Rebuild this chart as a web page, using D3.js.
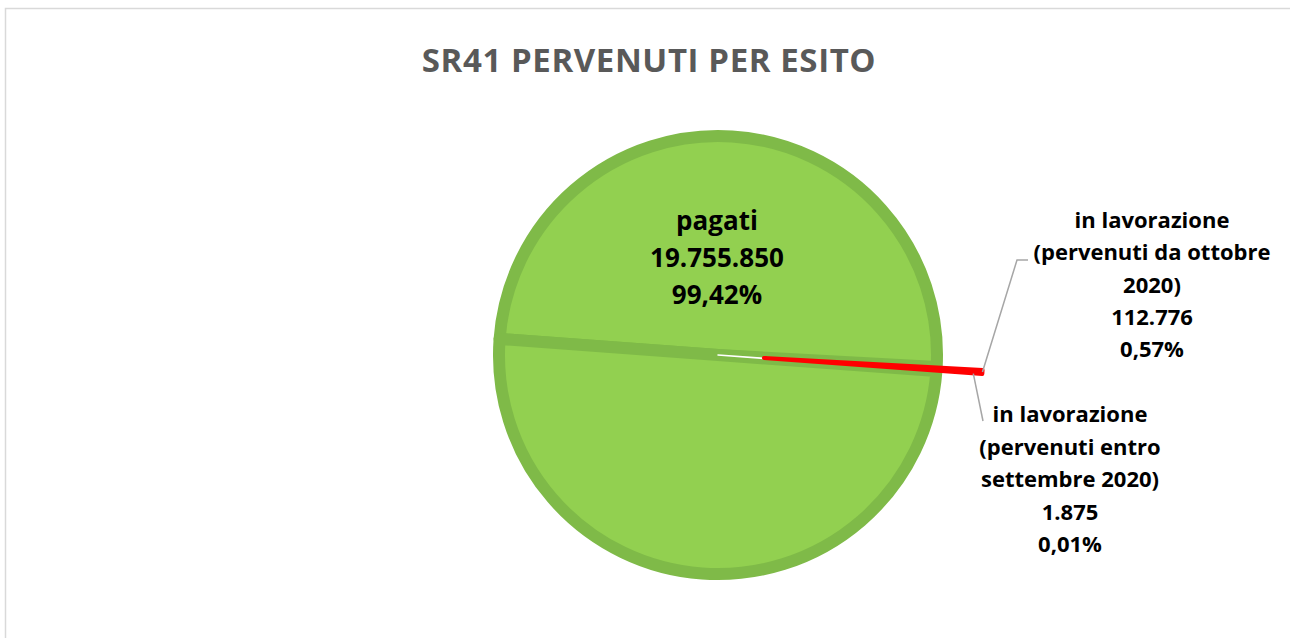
<!DOCTYPE html>
<html>
<head>
<meta charset="utf-8">
<script src="https://cdn.jsdelivr.net/npm/d3@7"></script>
<style>
  html, body { margin: 0; padding: 0; background: #fff; }
  svg { display: block; }
  text { font-family: "Open Sans", "Noto Sans", sans-serif; font-weight: bold; }
</style>
</head>
<body>
<div id="chart"></div>
<script>
// Data (helper "totale" slice draws the lower half, Excel half-pie style)
const categories = ['pagati', 'in lavorazione ottobre', 'in lavorazione settembre', 'totale'];
const values = [19755850, 112776, 1875, 19870501];
const labelLines = [
  ['pagati'],
  ['in lavorazione', '(pervenuti da ottobre', '2020)'],
  ['in lavorazione', '(pervenuti entro', 'settembre 2020)'],
  []
];
const colors = ['#92d050', '#ff0000', '#ffffff', '#92d050'];

const width = 1290;
const height = 638;
const cx = 718, cy = 355;
const radius = 219;
const explode = 46;

const locale = d3.formatLocale({ decimal: ',', thousands: '.', grouping: [3], currency: ['€', ''] });
const fmtNum = locale.format(',d');
const fmtPct = locale.format('.2%');
const shown = d3.sum(values.slice(0, 3));

const svg = d3.select('#chart').append('svg')
  .attr('width', width)
  .attr('height', height);

// Chart frame
svg.append('rect')
  .attr('x', 5.5).attr('y', 8.5)
  .attr('width', width).attr('height', height)
  .attr('fill', 'none')
  .attr('stroke', '#d9d9d9')
  .attr('stroke-width', 1.5);

// Title
svg.append('text')
  .attr('x', 649).attr('y', 72)
  .attr('text-anchor', 'middle')
  .attr('font-size', 33)
  .attr('fill', '#595959')
  .attr('letter-spacing', 0.6)
  .text('SR41 PERVENUTI PER ESITO');

const startAngle = 274.2 * Math.PI / 180;
const pie = d3.pie().sort(null).value(d => d)
  .startAngle(startAngle)
  .endAngle(startAngle + 2 * Math.PI);
const arcs = pie(values);
const arc = d3.arc().innerRadius(0).outerRadius(radius);

const g = svg.append('g').attr('transform', `translate(${cx},${cy})`);

// Green slices first, then white, then the exploded red one on top
const order = [0, 3, 2, 1];
order.forEach(i => {
  const a = arcs[i];
  const mid = (a.startAngle + a.endAngle) / 2;
  const off = i === 1 ? explode : 0;
  g.append('path')
    .attr('d', arc(a))
    .attr('transform', `translate(${off * Math.sin(mid)},${-off * Math.cos(mid)})`)
    .attr('fill', colors[i])
    .attr('stroke', i === 1 ? '#ff0000' : i === 2 ? '#ffffff' : '#7fba48')
    .attr('stroke-width', i === 1 ? 4 : i === 2 ? 1.5 : 12)
    .attr('stroke-linejoin', 'round');
});

// Labels
function drawLabel(x, y0, step, lines, size) {
  const t = svg.append('text')
    .attr('text-anchor', 'middle')
    .attr('font-size', size)
    .attr('fill', '#000');
  lines.forEach((s, k) => {
    t.append('tspan').attr('x', x).attr('y', y0 + k * step).text(s);
  });
}

const texts = values.map((v, i) => labelLines[i].length
  ? labelLines[i].concat([fmtNum(v), fmtPct(v / shown)]) : []);

drawLabel(717, 230, 37, texts[0], 26);
drawLabel(1152, 228, 32.3, texts[1], 22);
drawLabel(1070, 422, 32.5, texts[2], 22);

// Leader lines
function polar(a, r) {
  const m = (a.startAngle + a.endAngle) / 2;
  return [cx + r * Math.sin(m), cy - r * Math.cos(m)];
}
const redTip = polar(arcs[1], radius + explode);
const whiteTip = polar(arcs[2], 256);
svg.append('polyline')
  .attr('points', [redTip, [1017, 260], [1028, 260]].map(p => p.join(',')).join(' '))
  .attr('fill', 'none')
  .attr('stroke', '#a6a6a6')
  .attr('stroke-width', 1.5);
svg.append('polyline')
  .attr('points', [whiteTip, [983, 421]].map(p => p.join(',')).join(' '))
  .attr('fill', 'none')
  .attr('stroke', '#a6a6a6')
  .attr('stroke-width', 1.5);
</script>
</body>
</html>
